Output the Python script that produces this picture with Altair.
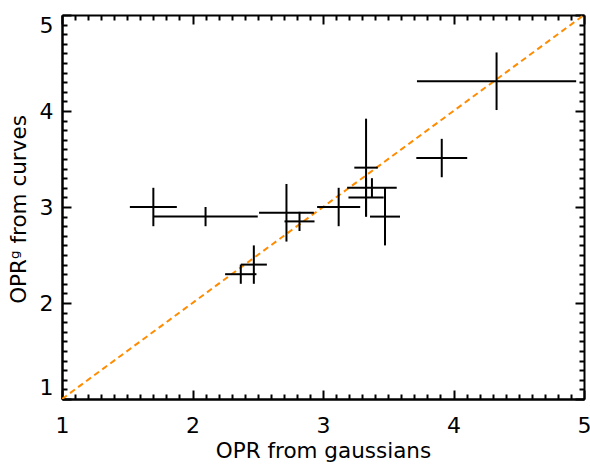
import altair as alt
import pandas as pd

# ---- data ----
opr_gauss = [1.70, 2.10, 2.72, 2.82, 2.37, 2.47, 3.12, 3.33, 3.33, 3.375, 3.475, 3.91, 4.33]
opr_gauss_err = [0.18, 0.40, 0.21, 0.115, 0.12, 0.10, 0.165, 0.09, 0.135, 0.19, 0.115, 0.195, 0.61]
opr_curves = [3.00, 2.90, 2.94, 2.85, 2.30, 2.40, 3.00, 3.41, 3.10, 3.20, 2.90, 3.51, 4.31]
opr_curves_err = [0.20, 0.10, 0.30, 0.10, 0.10, 0.20, 0.20, 0.51, 0.20, 0.10, 0.30, 0.20, 0.30]
diag = [1, 5]
major_ticks = [1, 2, 3, 4, 5]
minor_ticks = [round(1 + 0.1 * i, 1) for i in range(41)]

W, H = 522, 384
FONT = "DejaVu Sans"

df = pd.DataFrame({"x": opr_gauss, "xerr": opr_gauss_err, "y": opr_curves, "yerr": opr_curves_err})
df["x_lo"] = df["x"] - df["xerr"]
df["x_hi"] = df["x"] + df["xerr"]
df["y_lo"] = df["y"] - df["yerr"]
df["y_hi"] = df["y"] + df["yerr"]
diag_df = pd.DataFrame({"d": diag})

xs = alt.Scale(domain=[1, 5], nice=False, zero=False)
ys = alt.Scale(domain=[1, 5], nice=False, zero=False)

tick_cond = {"condition": {"test": "abs(datum.value - round(datum.value)) < 0.001", "value": 9}, "value": 5}


def tick_axis(orient, offset):
    return alt.Axis(orient=orient, offset=offset, values=minor_ticks, labels=False, ticks=True,
                    tickSize=tick_cond, tickWidth=2, tickColor="black",
                    domain=True, domainWidth=2, domainColor="black", title=None, grid=False)


x_label_axis = alt.Axis(orient="bottom", values=major_ticks, ticks=False, tickSize=0,
                        labelPadding=33, labelBaseline="alphabetic", labelFontSize=22, labelFont=FONT,
                        labelColor="black", labelFlush=False, labelOverlap=False, format="d",
                        domain=True, domainWidth=2, domainColor="black", grid=False,
                        title="OPR from gaussians", titleFont=FONT, titleFontSize=21.5,
                        titleFontWeight="normal", titleColor="black", titleBaseline="alphabetic",
                        titleX=W / 2, titleY=58)

y_label_axis = alt.Axis(orient="left", values=major_ticks, ticks=False, tickSize=0,
                        labelPadding=9, labelFontSize=22, labelFont=FONT, labelColor="black",
                        labelFlush=True, labelOverlap=False, format="d",
                        domain=True, domainWidth=2, domainColor="black", grid=False,
                        title="OPRᵍ from curves", titleFont=FONT, titleFontSize=21.5,
                        titleFontWeight="normal", titleColor="black", titleBaseline="alphabetic",
                        titleX=-37, titleY=194)

line = alt.Chart(diag_df).mark_line(color="#ff8c00", strokeDash=[6, 4], strokeWidth=2, clip=True).encode(
    x=alt.X("d:Q", scale=xs, axis=tick_axis("bottom", -H)),
    y=alt.Y("d:Q", scale=ys, axis=tick_axis("left", -W)),
)

hbars = alt.Chart(df).mark_rule(color="black", strokeWidth=2).encode(
    x=alt.X("x_lo:Q", scale=xs, axis=x_label_axis),
    x2="x_hi:Q",
    y=alt.Y("y:Q", scale=ys, axis=y_label_axis),
)

vbars = alt.Chart(df).mark_rule(color="black", strokeWidth=2).encode(
    x=alt.X("x:Q", scale=xs, axis=tick_axis("top", -H)),
    y=alt.Y("y_lo:Q", scale=ys, axis=tick_axis("right", -W)),
    y2="y_hi:Q",
)

chart = (
    alt.layer(line, hbars, vbars)
    .resolve_axis(x="independent", y="independent")
    .properties(width=W, height=H, autosize=alt.AutoSizeParams(type="none"),
                padding={"left": 62, "top": 15, "right": 6, "bottom": 65})
    .configure_view(stroke=None)
    .configure(background="white")
)

chart.save("out.html", embed_options={"renderer": "svg", "actions": False})
